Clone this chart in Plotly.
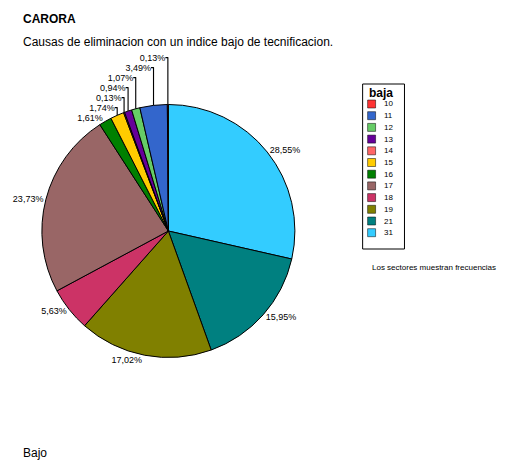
import plotly.graph_objects as go

labels = ["31", "21", "19", "18", "17", "16", "15", "14", "13", "12", "11", "10"]
values = [28.55, 15.95, 17.02, 5.63, 23.73, 1.61, 1.74, 0.13, 0.94, 1.07, 3.49, 0.13]
colors = ["#33ccff", "#008080", "#808000", "#cc3366", "#996666", "#008000",
          "#ffcc00", "#ff6666", "#660099", "#66cc66", "#3366cc", "#ff3333"]
legend_order = ["10", "11", "12", "13", "14", "15", "16", "17", "18", "19", "21", "31"]
texts = [f"{v:.2f}%".replace(".", ",") for v in values]

W, H = 520, 470
DX, DY = -9, -7  # compensate page body margin
def px(x): return (x + DX) / W
def py(y): return 1 - (y + DY) / H

fig = go.Figure()
fig.add_trace(go.Pie(
    labels=labels, values=values, text=texts, textinfo="text",
    textposition="outside", sort=False, direction="clockwise", rotation=0,
    marker=dict(colors=colors, line=dict(color="black", width=1)),
    textfont=dict(size=9, color="black", family="Arial"),
    domain=dict(x=[px(41), px(295)], y=[py(357), py(103)]),
    showlegend=False,
))

shapes = [dict(type="rect", xref="paper", yref="paper", x0=px(363), x1=px(405),
               y0=py(248), y1=py(83), line=dict(color="black", width=1), fillcolor="white")]
annotations = [dict(text="<b>baja</b>", x=px(367), y=py(92), xref="paper", yref="paper",
                    xanchor="left", yanchor="middle", showarrow=False, font=dict(size=12))]
for i, lab in enumerate(legend_order):
    yc = 103 + i * 11.7
    c = colors[labels.index(lab)]
    shapes.append(dict(type="rect", xref="paper", yref="paper", x0=px(368), x1=px(376),
                       y0=py(yc + 4), y1=py(yc - 4), fillcolor=c,
                       line=dict(color="black", width=0.5)))
    annotations.append(dict(text=lab, x=px(382), y=py(yc), xref="paper", yref="paper",
                            xanchor="left", yanchor="middle", showarrow=False,
                            font=dict(size=8)))

annotations += [
    dict(text="<b>CARORA</b>", x=px(20), y=py(18), xref="paper", yref="paper",
         xanchor="left", yanchor="middle", showarrow=False, font=dict(size=12)),
    dict(text="Causas de eliminacion con un indice bajo de tecnificacion.", x=px(20), y=py(41),
         xref="paper", yref="paper", xanchor="left", yanchor="middle", showarrow=False,
         font=dict(size=12)),
    dict(text="Los sectores muestran frecuencias", x=px(370), y=py(266),
         xref="paper", yref="paper", xanchor="left", yanchor="middle", showarrow=False,
         font=dict(size=8)),
    dict(text="Bajo", x=px(20), y=py(452), xref="paper", yref="paper",
         xanchor="left", yanchor="middle", showarrow=False, font=dict(size=12)),
]

fig.update_layout(
    width=W, height=H, margin=dict(l=0, r=0, t=0, b=0),
    paper_bgcolor="white", plot_bgcolor="white",
    font=dict(family="Arial", size=11, color="black"),
    showlegend=False, shapes=shapes, annotations=annotations,
)
fig.write_html("out.html")
